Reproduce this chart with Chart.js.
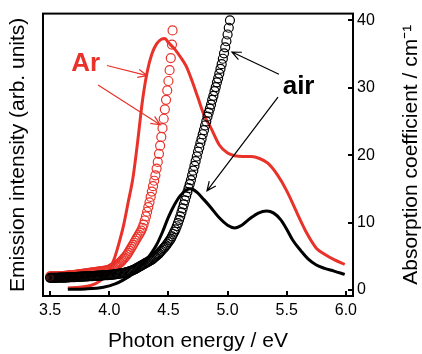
<!DOCTYPE html>
<html>
<head>
<meta charset="utf-8">
<script src="https://cdn.jsdelivr.net/npm/chart.js@4.4.1/dist/chart.umd.min.js"></script>
<style>
  html, body { margin: 0; padding: 0; background: #fff; }
  #chart { display: block; }
</style>
</head>
<body>
<canvas id="chart" width="422" height="354"></canvas>
<script>
// axis ticks
const energyTicks = [3.5, 4.0, 4.5, 5.0, 5.5, 6.0];
const absTicks = [0, 10, 20, 30, 40];

// emission spectra (arb. units, drawn against the absorption scale)
const arEmE = [3.65, 3.75, 3.85, 3.92, 3.97, 4.00, 4.04, 4.08, 4.12, 4.16, 4.20, 4.24, 4.28, 4.32, 4.36, 4.40, 4.44, 4.47, 4.50, 4.55, 4.60, 4.65, 4.70, 4.75, 4.80, 4.86, 4.93, 5.00, 5.06, 5.13, 5.20, 5.27, 5.34, 5.42, 5.50, 5.59, 5.67, 5.75, 5.82, 5.90, 5.99];
const arEmI = [0.3, 0.4, 0.7, 1.3, 2.2, 3.0, 4.5, 6.8, 9.5, 13.0, 16.6, 22.0, 28.0, 32.3, 35.0, 36.5, 37.2, 37.3, 36.7, 35.8, 34.6, 33.2, 31.0, 28.5, 26.0, 24.0, 21.5, 20.3, 19.9, 19.8, 19.8, 19.5, 18.8, 17.1, 14.7, 11.3, 8.4, 6.2, 5.3, 4.5, 3.8];

const airEmE = [3.65, 3.80, 3.95, 4.05, 4.12, 4.20, 4.28, 4.35, 4.40, 4.45, 4.50, 4.55, 4.60, 4.65, 4.69, 4.74, 4.80, 4.86, 4.93, 5.00, 5.06, 5.12, 5.19, 5.26, 5.33, 5.39, 5.45, 5.50, 5.55, 5.62, 5.68, 5.75, 5.82, 5.90, 5.99];
const airEmI = [0.1, 0.15, 0.4, 0.9, 1.5, 2.4, 3.8, 5.3, 6.7, 8.6, 10.8, 12.6, 14.0, 14.8, 15.0, 14.5, 13.4, 12.2, 10.7, 9.6, 9.2, 9.6, 10.6, 11.4, 11.7, 11.4, 10.4, 9.0, 7.4, 5.8, 4.6, 3.7, 3.2, 2.8, 2.3];

// absorption coefficient (cm^-1), one value per measured energy
const arAbsE = [
  3.50, 3.51, 3.52, 3.53, 3.54, 3.55, 3.56, 3.57, 3.58, 3.59,
  3.60, 3.61, 3.62, 3.63, 3.64, 3.65, 3.66, 3.67, 3.68, 3.69,
  3.70, 3.71, 3.72, 3.73, 3.74, 3.75, 3.76, 3.77, 3.78, 3.79,
  3.80, 3.81, 3.82, 3.83, 3.84, 3.85, 3.86, 3.87, 3.88, 3.89,
  3.90, 3.91, 3.92, 3.93, 3.94, 3.95, 3.96, 3.97, 3.98, 3.99,
  4.00, 4.01, 4.02, 4.03, 4.04, 4.05, 4.06, 4.07, 4.08, 4.09,
  4.10, 4.11, 4.12, 4.13, 4.14, 4.15, 4.16, 4.17, 4.18, 4.19,
  4.20, 4.21, 4.22, 4.23, 4.24, 4.25, 4.26, 4.27, 4.28, 4.29,
  4.30, 4.31, 4.32, 4.33, 4.34, 4.35, 4.36, 4.37, 4.38, 4.39,
  4.40, 4.41, 4.42, 4.43, 4.44, 4.45, 4.46, 4.47, 4.48, 4.49,
  4.50, 4.51, 4.52, 4.53, 4.535];
const arAbsA = [
  2.00, 2.00, 2.00, 2.00, 2.00, 2.00, 2.00, 2.02, 2.04, 2.05,
  2.05, 2.07, 2.10, 2.10, 2.10, 2.12, 2.15, 2.17, 2.20, 2.20,
  2.20, 2.22, 2.25, 2.27, 2.30, 2.32, 2.35, 2.37, 2.40, 2.42,
  2.45, 2.47, 2.50, 2.52, 2.55, 2.57, 2.60, 2.62, 2.65, 2.67,
  2.70, 2.72, 2.75, 2.77, 2.80, 2.82, 2.85, 2.87, 2.90, 2.95,
  3.0, 3.1, 3.2, 3.3, 3.4, 3.5, 3.6, 3.75, 3.9, 4.05,
  4.2, 4.4, 4.6, 4.8, 5.0, 5.25, 5.5, 5.8, 6.1, 6.4,
  6.7, 7.0, 7.3, 7.6, 7.9, 8.2, 8.5, 8.8, 9.2, 9.7,
  10.3, 10.9, 11.6, 12.3, 13.0, 13.8, 14.6, 15.4, 16.2, 17.0,
  18.0, 19.0, 20.2, 21.4, 22.7, 24.0, 25.4, 26.8, 28.2, 29.6,
  31.0, 32.6, 34.4, 36.4, 38.5];

const airAbsE = [
  3.50, 3.51, 3.52, 3.53, 3.54, 3.55, 3.56, 3.57, 3.58, 3.59,
  3.60, 3.61, 3.62, 3.63, 3.64, 3.65, 3.66, 3.67, 3.68, 3.69,
  3.70, 3.71, 3.72, 3.73, 3.74, 3.75, 3.76, 3.77, 3.78, 3.79,
  3.80, 3.81, 3.82, 3.83, 3.84, 3.85, 3.86, 3.87, 3.88, 3.89,
  3.90, 3.91, 3.92, 3.93, 3.94, 3.95, 3.96, 3.97, 3.98, 3.99,
  4.00, 4.01, 4.02, 4.03, 4.04, 4.05, 4.06, 4.07, 4.08, 4.09,
  4.10, 4.11, 4.12, 4.13, 4.14, 4.15, 4.16, 4.17, 4.18, 4.19,
  4.20, 4.21, 4.22, 4.23, 4.24, 4.25, 4.26, 4.27, 4.28, 4.29,
  4.30, 4.31, 4.32, 4.33, 4.34, 4.35, 4.36, 4.37, 4.38, 4.39,
  4.40, 4.41, 4.42, 4.43, 4.44, 4.45, 4.46, 4.47, 4.48, 4.49,
  4.50, 4.51, 4.52, 4.53, 4.54, 4.55, 4.56, 4.57, 4.58, 4.59,
  4.60, 4.61, 4.62, 4.63, 4.64, 4.65, 4.66, 4.67, 4.68, 4.69,
  4.70, 4.71, 4.72, 4.73, 4.74, 4.75, 4.76, 4.77, 4.78, 4.79,
  4.80, 4.81, 4.82, 4.83, 4.84, 4.85, 4.86, 4.87, 4.88, 4.89,
  4.90, 4.91, 4.92, 4.93, 4.94, 4.95, 4.96, 4.97, 4.98, 4.99,
  5.00, 5.01, 5.02];
const airAbsA = [
  1.80, 1.80, 1.80, 1.80, 1.80, 1.80, 1.81, 1.81, 1.82, 1.82,
  1.82, 1.83, 1.84, 1.84, 1.85, 1.86, 1.87, 1.88, 1.89, 1.90,
  1.90, 1.91, 1.92, 1.93, 1.94, 1.95, 1.96, 1.97, 1.98, 1.99,
  2.00, 2.01, 2.02, 2.03, 2.04, 2.05, 2.06, 2.07, 2.08, 2.09,
  2.10, 2.11, 2.12, 2.13, 2.15, 2.16, 2.18, 2.19, 2.20, 2.21,
  2.22, 2.23, 2.25, 2.27, 2.30, 2.32, 2.35, 2.37, 2.40, 2.42,
  2.45, 2.47, 2.50, 2.55, 2.60, 2.65, 2.70, 2.75, 2.80, 2.87,
  2.95, 3.02, 3.10, 3.20, 3.30, 3.40, 3.50, 3.60, 3.70, 3.80,
  3.90, 4.00, 4.10, 4.20, 4.30, 4.40, 4.50, 4.65, 4.80, 4.95,
  5.10, 5.25, 5.4, 5.6, 5.8, 6.0, 6.2, 6.4, 6.6, 6.85,
  7.1, 7.35, 7.6, 7.95, 8.3, 8.65, 9.0, 9.45, 9.9, 10.4,
  10.9, 11.5, 12.1, 12.7, 13.3, 13.9, 14.5, 15.1, 15.7, 16.3,
  17.0, 17.7, 18.4, 19.1, 19.8, 20.5, 21.1, 21.8, 22.4, 23.1,
  23.7, 24.4, 25.0, 25.7, 26.3, 26.9, 27.5, 28.2, 28.8, 29.5,
  30.1, 30.8, 31.4, 32.1, 32.8, 33.5, 34.3, 35.1, 36.0, 36.9,
  37.9, 38.9, 40.0];

const RED = "#e8322a";
const BLACK = "#000000";
const FONT = "'Liberation Sans', Arial, sans-serif";

// annotations in data units: [fromE, fromV, toE, toV]
const arArrows = [[3.98, 33.3, 4.32, 31.8], [3.905, 30.4, 4.43, 24.5]];
const airArrows = [[5.434, 32.0, 5.037, 35.3], [5.426, 28.6, 4.826, 14.7]];

function pts(xs, ys) {
  return xs.map((e, i) => ({ x: e, y: ys[i] }));
}

function arrow(ctx, x1, y1, x2, y2) {
  const ang = Math.atan2(y2 - y1, x2 - x1);
  const len = 10, spread = 0.42;
  ctx.beginPath();
  ctx.moveTo(x1, y1);
  ctx.lineTo(x2, y2);
  ctx.moveTo(x2 - len * Math.cos(ang - spread), y2 - len * Math.sin(ang - spread));
  ctx.lineTo(x2, y2);
  ctx.lineTo(x2 - len * Math.cos(ang + spread), y2 - len * Math.sin(ang + spread));
  ctx.stroke();
}

const decorations = {
  id: "decorations",
  afterDatasetsDraw(chart) {
    const { ctx, chartArea: a, scales } = chart;
    const xs = scales.x, ys = scales.y;
    ctx.save();
    ctx.strokeStyle = BLACK;
    ctx.lineWidth = 2;
    ctx.beginPath();
    for (const t of energyTicks) {
      const px = Math.round(xs.getPixelForValue(t));
      ctx.moveTo(px, a.bottom);
      ctx.lineTo(px, a.bottom - 5);
    }
    for (const t of absTicks) {
      const py = Math.round(ys.getPixelForValue(t));
      ctx.moveTo(a.right, py);
      ctx.lineTo(a.right - 5, py);
    }
    ctx.stroke();
    ctx.strokeRect(a.left, a.top, a.right - a.left, a.bottom - a.top);

    ctx.lineWidth = 1.2;
    ctx.strokeStyle = RED;
    for (const r of arArrows) {
      arrow(ctx, xs.getPixelForValue(r[0]), ys.getPixelForValue(r[1]), xs.getPixelForValue(r[2]), ys.getPixelForValue(r[3]));
    }
    ctx.strokeStyle = BLACK;
    for (const r of airArrows) {
      arrow(ctx, xs.getPixelForValue(r[0]), ys.getPixelForValue(r[1]), xs.getPixelForValue(r[2]), ys.getPixelForValue(r[3]));
    }

    ctx.font = "bold 26px " + FONT;
    ctx.textAlign = "center";
    ctx.textBaseline = "middle";
    ctx.fillStyle = RED;
    ctx.fillText("Ar", xs.getPixelForValue(3.80), ys.getPixelForValue(33.6));
    ctx.fillStyle = BLACK;
    ctx.fillText("air", xs.getPixelForValue(5.60), ys.getPixelForValue(30.2));

    // right axis title reads bottom-to-top like the left one
    ctx.translate(ys.right - 11, (a.top + a.bottom) / 2);
    ctx.rotate(-Math.PI / 2);
    ctx.font = "21px " + FONT;
    ctx.fillText("Absorption coefficient / cm\u207B\u00B9", 0, 0);
    ctx.restore();
  }
};

Chart.defaults.font.family = FONT;
Chart.defaults.color = BLACK;

const circleStyle = {
  showLine: false,
  pointStyle: "circle",
  pointRadius: 4.5,
  pointBorderWidth: 1.2,
  pointBackgroundColor: "rgba(0,0,0,0)",
  yAxisID: "y"
};

new Chart(document.getElementById("chart"), {
  type: "line",
  data: {
    datasets: [
      Object.assign({ label: "air absorption", data: pts(airAbsE, airAbsA), pointBorderColor: BLACK }, circleStyle),
      {
        label: "air emission",
        data: pts(airEmE, airEmI),
        borderColor: BLACK,
        borderWidth: 3,
        pointRadius: 0,
        cubicInterpolationMode: "monotone",
        fill: false,
        yAxisID: "y"
      },
      Object.assign({ label: "Ar absorption", data: pts(arAbsE, arAbsA), pointBorderColor: RED }, circleStyle),
      {
        label: "Ar emission",
        data: pts(arEmE, arEmI),
        borderColor: RED,
        borderWidth: 3,
        pointRadius: 0,
        cubicInterpolationMode: "monotone",
        fill: false,
        yAxisID: "y"
      }
    ]
  },
  options: {
    responsive: false,
    animation: false,
    layout: { padding: { top: 10, left: 0, right: 0, bottom: 0 } },
    plugins: { legend: { display: false }, tooltip: { enabled: false } },
    scales: {
      x: {
        type: "linear",
        position: "bottom",
        min: 3.44,
        max: 6.06,
        grid: { display: false, drawTicks: false },
        border: { display: false },
        afterBuildTicks: (s) => { s.ticks = energyTicks.map((v) => ({ value: v })); },
        afterFit: (s) => { s.height = 58; },
        ticks: {
          padding: 5,
          font: { size: 16 },
          maxRotation: 0,
          callback: (v) => v.toFixed(1)
        },
        title: {
          display: true,
          text: "Photon energy / eV",
          font: { size: 21 },
          padding: { top: 0, bottom: 0 }
        }
      },
      y: {
        type: "linear",
        position: "right",
        min: -0.9,
        max: 41.0,
        grid: { display: false, drawTicks: false },
        border: { display: false },
        afterBuildTicks: (s) => { s.ticks = absTicks.map((v) => ({ value: v })); },
        afterFit: (s) => { s.width = 69; },
        ticks: { padding: 4, font: { size: 16 } }
      },
      y2: {
        type: "linear",
        position: "left",
        min: -0.9,
        max: 41.0,
        grid: { display: false, drawTicks: false },
        border: { display: false },
        ticks: { display: false },
        afterFit: (s) => { s.width = 43; },
        title: {
          display: true,
          text: "Emission intensity (arb. units)",
          font: { size: 21, lineHeight: 1.0 },
          padding: { top: 8, bottom: 0 }
        }
      }
    }
  },
  plugins: [decorations]
});
</script>
</body>
</html>
